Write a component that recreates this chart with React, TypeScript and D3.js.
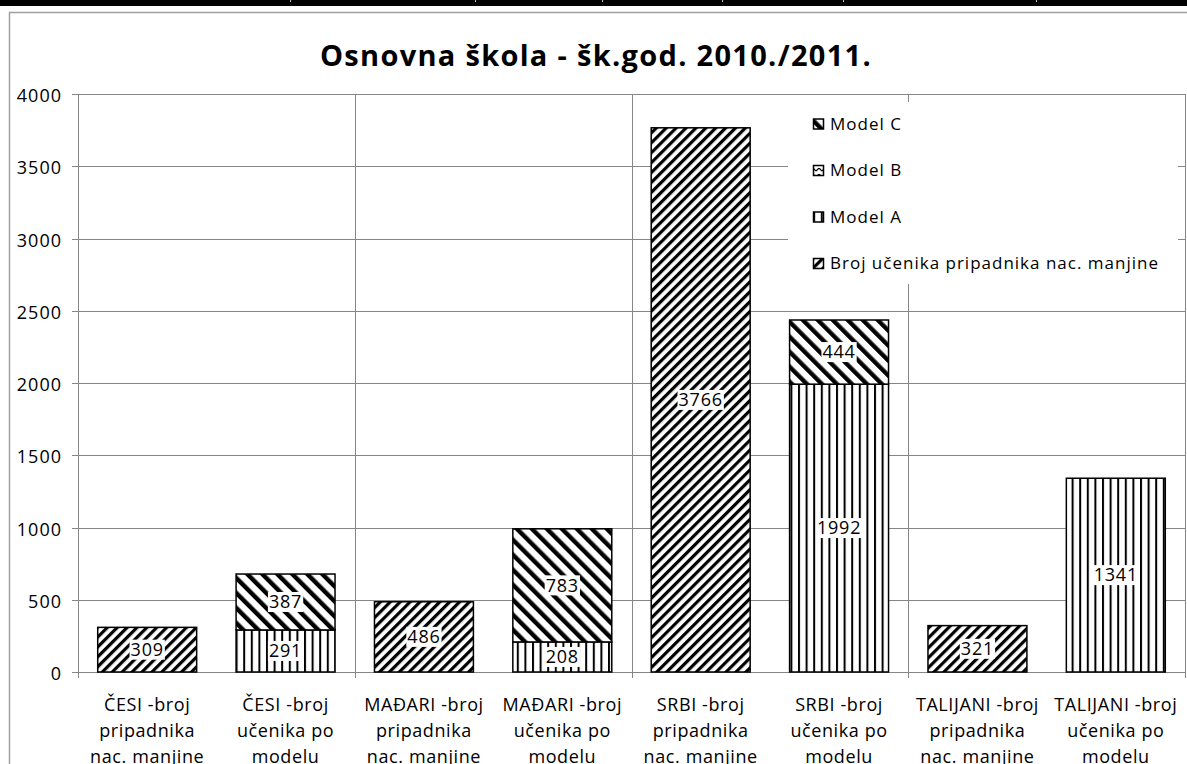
import React, { useEffect, useRef } from 'react';
import * as d3 from 'd3';

const title = 'Osnovna škola - šk.god. 2010./2011.';

// x axis labels, already wrapped in three lines like the original
const categories = [
  ['ČESI -broj', 'pripadnika', 'nac. manjine'],
  ['ČESI -broj', 'učenika po', 'modelu'],
  ['MAĐARI -broj', 'pripadnika', 'nac. manjine'],
  ['MAĐARI -broj', 'učenika po', 'modelu'],
  ['SRBI -broj', 'pripadnika', 'nac. manjine'],
  ['SRBI -broj', 'učenika po', 'modelu'],
  ['TALIJANI -broj', 'pripadnika', 'nac. manjine'],
  ['TALIJANI -broj', 'učenika po', 'modelu'],
];

const brojUcenika = [309, 0, 486, 0, 3766, 0, 321, 0];
const modelA = [0, 291, 0, 208, 0, 1992, 0, 1341];
const modelB = [0, 0, 0, 0, 0, 0, 0, 0];
const modelC = [0, 387, 0, 783, 0, 444, 0, 0];

const seriesKeys = ['broj', 'a', 'b', 'c'];
const seriesNames = ['Broj učenika pripadnika nac. manjine', 'Model A', 'Model B', 'Model C'];

const yTicks = [0, 500, 1000, 1500, 2000, 2500, 3000, 3500, 4000];

const FONT = '"Open Sans", Calibri, sans-serif';
const GRID = '#868686';

function App() {
  const ref = useRef<SVGSVGElement>(null);

  useEffect(() => {
    document.body.style.margin = '0';
    document.body.style.overflow = 'hidden';

    const width = 1187;
    const height = 764;
    const plot = { left: 78, right: 1185, top: 94, bottom: 672 };

    const svg = d3.select(ref.current);
    svg.selectAll('*').remove();
    svg.attr('width', width).attr('height', height);

    // pattern fills (Excel style hatching)
    const defs = svg.append('defs');
    const stripes = (id: string, period: number, thick: number, angle: number) => {
      const p = defs.append('pattern')
        .attr('id', id)
        .attr('patternUnits', 'userSpaceOnUse')
        .attr('width', period)
        .attr('height', period)
        .attr('patternTransform', 'rotate(' + angle + ')');
      p.append('rect').attr('width', period).attr('height', period).attr('fill', '#fff');
      p.append('rect').attr('width', thick).attr('height', period).attr('fill', '#000');
    };
    stripes('pat-broj', 7, 3.2, 45);
    stripes('pat-a', 7.6, 2, 0);
    stripes('pat-c', 10.6, 4.4, -45);
    // model B never shows up in the bars, only in the legend
    const pb = defs.append('pattern')
      .attr('id', 'pat-b')
      .attr('patternUnits', 'userSpaceOnUse')
      .attr('width', 6).attr('height', 6);
    pb.append('rect').attr('width', 6).attr('height', 6).attr('fill', '#fff');
    pb.append('path').attr('d', 'M0,3 L3,0 L6,3').attr('fill', 'none').attr('stroke', '#000').attr('stroke-width', 1.2);

    const patterns: Record<string, string> = {
      broj: 'url(#pat-broj)', a: 'url(#pat-a)', b: 'url(#pat-b)', c: 'url(#pat-c)',
    };

    // spreadsheet band above the chart
    svg.append('rect').attr('x', 0).attr('y', 0).attr('width', width).attr('height', 6).attr('fill', '#000');
    [290, 475, 602, 722, 843, 1036].forEach((cx) => {
      svg.append('line').attr('x1', cx + 0.5).attr('x2', cx + 0.5).attr('y1', 0).attr('y2', 2)
        .attr('stroke', '#bbb');
    });

    // chart frame
    svg.append('path')
      .attr('d', 'M9.5,' + height + ' L9.5,12.5 L' + width + ',12.5')
      .attr('fill', 'none')
      .attr('stroke', '#a0a0a0')
      .attr('stroke-width', 1.5);

    const rows = categories.map((c, i) => ({
      broj: brojUcenika[i], a: modelA[i], b: modelB[i], c: modelC[i],
    }));

    const x = d3.scaleBand<number>()
      .domain(d3.range(categories.length))
      .range([plot.left, plot.right])
      .paddingInner(0.285)
      .paddingOuter(0.1425);

    const y = d3.scaleLinear().domain([0, 4000]).range([plot.bottom, plot.top]);

    const step = x.step();
    const start = (i: number) => (x(i) as number) - step * x.paddingOuter();

    // horizontal gridlines + ticks
    svg.append('g').selectAll('line')
      .data(yTicks)
      .enter().append('line')
      .attr('x1', plot.left - 6)
      .attr('x2', plot.right)
      .attr('y1', (d) => Math.round(y(d)) + 0.5)
      .attr('y2', (d) => Math.round(y(d)) + 0.5)
      .attr('stroke', GRID);

    // vertical gridlines every second category
    const vx = [0, 2, 4, 6].map(start).concat([plot.right]);
    svg.append('g').selectAll('line')
      .data(vx)
      .enter().append('line')
      .attr('x1', (d) => Math.round(d) + 0.5)
      .attr('x2', (d) => Math.round(d) + 0.5)
      .attr('y1', plot.top)
      .attr('y2', plot.bottom + 6)
      .attr('stroke', GRID);

    // y tick labels
    svg.append('g').selectAll('text')
      .data(yTicks)
      .enter().append('text')
      .attr('x', 62)
      .attr('y', (d) => y(d))
      .attr('dy', '0.45em')
      .attr('text-anchor', 'end')
      .style('font-family', FONT)
      .style('font-size', '18px')
      .style('letter-spacing', '1px')
      .text((d) => d);

    // stacked bars
    const stack = d3.stack<any>().keys(seriesKeys);
    const layers = stack(rows);

    const bars = svg.append('g');
    layers.forEach((layer) => {
      layer.forEach((seg, i) => {
        if (seg[1] - seg[0] <= 0) return;
        bars.append('rect')
          .attr('x', x(i) as number)
          .attr('y', y(seg[1]))
          .attr('width', x.bandwidth())
          .attr('height', y(seg[0]) - y(seg[1]))
          .attr('fill', patterns[layer.key])
          .attr('stroke', '#000')
          .attr('stroke-width', 1.5);
      });
    });

    // data labels on white boxes
    const labels = svg.append('g');
    layers.forEach((layer) => {
      layer.forEach((seg, i) => {
        const v = seg[1] - seg[0];
        if (v <= 0) return;
        const cx = (x(i) as number) + x.bandwidth() / 2;
        const cy = y((seg[0] + seg[1]) / 2);
        const g = labels.append('g');
        const box = g.append('rect').attr('fill', '#fff');
        const t = g.append('text')
          .attr('x', cx)
          .attr('y', cy)
          .attr('dy', '0.35em')
          .attr('text-anchor', 'middle')
          .style('font-family', FONT)
          .style('font-size', '18px')
          .style('letter-spacing', '0.8px')
          .text(v);
        const bb = (t.node() as SVGTextElement).getBBox();
        box.attr('x', bb.x - 1).attr('y', cy - 10).attr('width', bb.width + 2).attr('height', 20);
      });
    });

    // x labels
    const xl = svg.append('g');
    categories.forEach((lines, i) => {
      const cx = (x(i) as number) + x.bandwidth() / 2;
      lines.forEach((ln, j) => {
        xl.append('text')
          .attr('x', cx)
          .attr('y', 705 + j * 26)
          .attr('dy', '0.35em')
          .attr('text-anchor', 'middle')
          .style('font-family', FONT)
          .style('font-size', '18px')
          .style('letter-spacing', '0.6px')
          .text(ln);
      });
    });

    // legend
    const lg = svg.append('g');
    lg.append('rect').attr('x', 788).attr('y', 102).attr('width', 390).attr('height', 182).attr('fill', '#fff');
    const order = [3, 2, 1, 0];
    order.forEach((s, k) => {
      const cy = 124 + k * 46.5;
      lg.append('rect')
        .attr('x', 813.5)
        .attr('y', cy - 5)
        .attr('width', 10)
        .attr('height', 10)
        .attr('fill', patterns[seriesKeys[s]])
        .attr('stroke', '#000')
        .attr('stroke-width', 1.5);
      lg.append('text')
        .attr('x', 830)
        .attr('y', cy)
        .attr('dy', '0.35em')
        .style('font-family', FONT)
        .style('font-size', '17px')
        .style('letter-spacing', '1px')
        .text(seriesNames[s]);
    });

    // title
    svg.append('text')
      .attr('x', 596)
      .attr('y', 66)
      .attr('text-anchor', 'middle')
      .style('font-family', FONT)
      .style('font-weight', 'bold')
      .style('font-size', '29px')
      .style('letter-spacing', '1.3px')
      .text(title);
  }, []);

  return (
    <div>
      <svg ref={ref} style={{ position: 'absolute', left: 0, top: 0, display: 'block' }} />
    </div>
  );
}

export default App;
